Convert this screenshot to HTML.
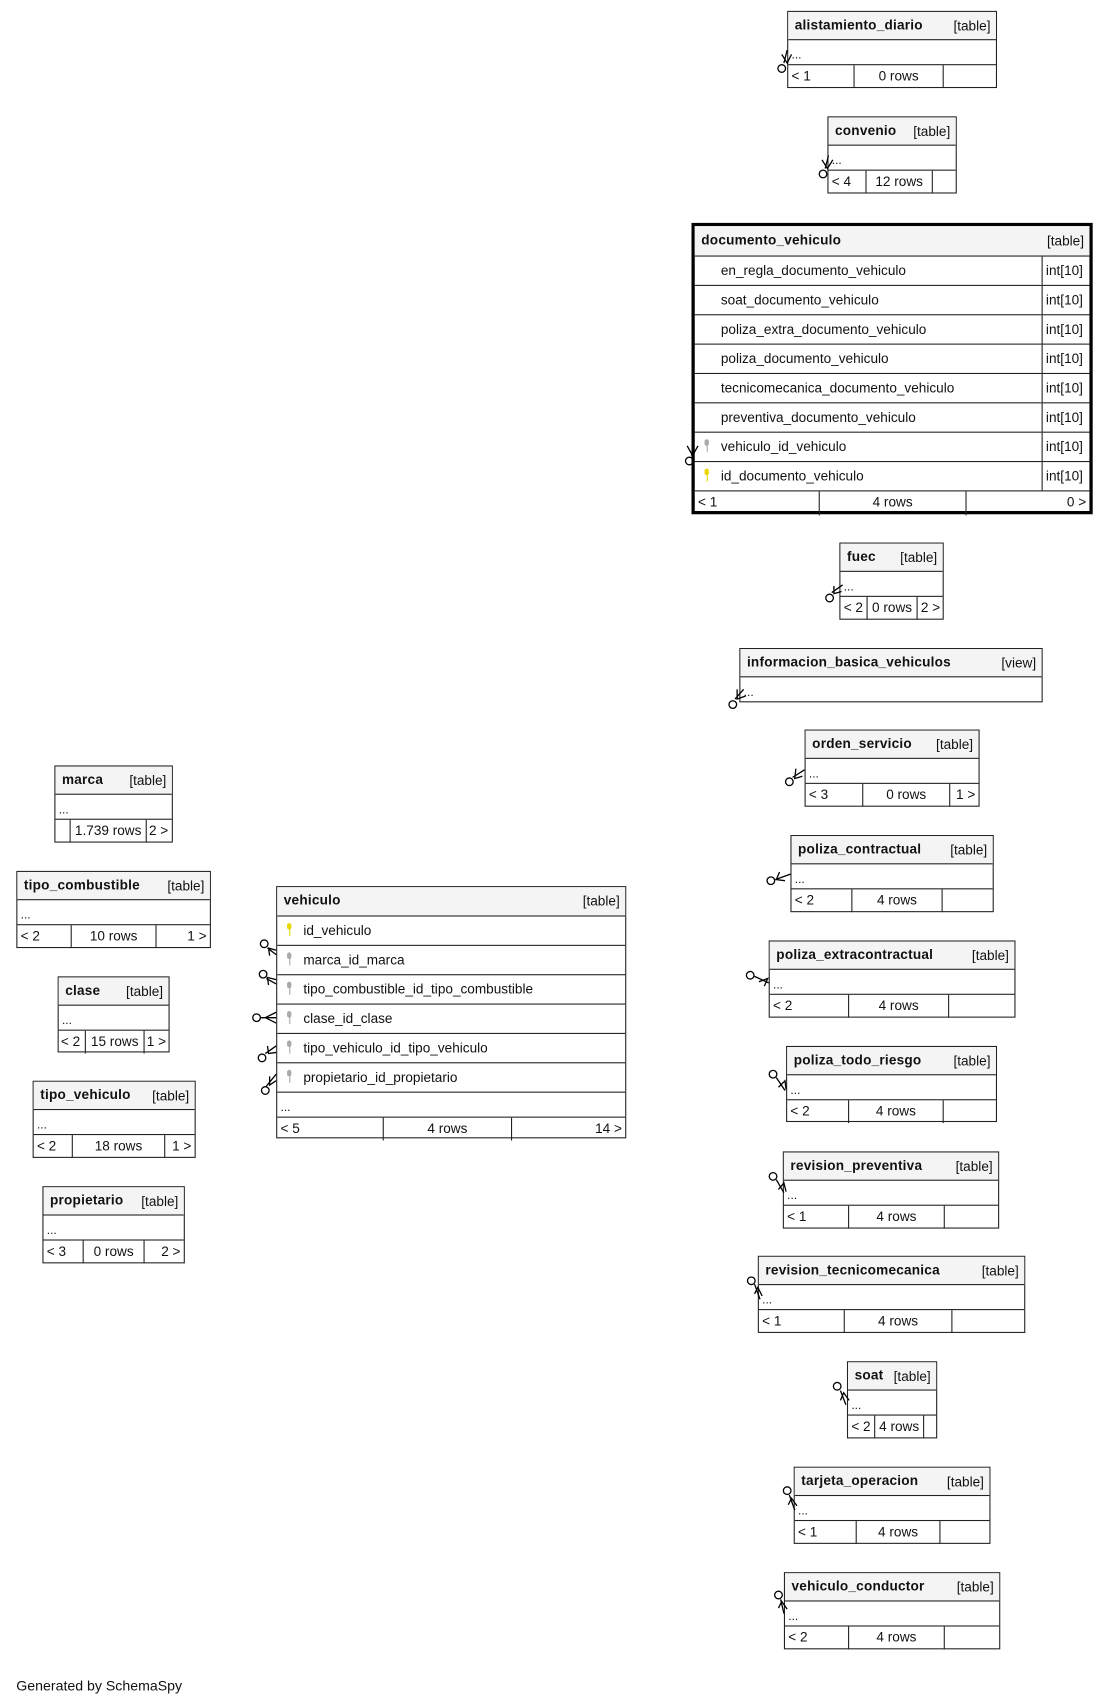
<!DOCTYPE html>
<html><head><meta charset="utf-8"><style>
html,body{margin:0;padding:0;background:#fff;}
body{width:1109px;height:1705px;overflow:hidden;position:relative;}
#w{position:absolute;left:0;top:0;width:1020px;height:1568px;transform:scale(1.08725);transform-origin:0 0;font-family:"Liberation Sans",sans-serif;font-size:12.5px;color:#111;}
.t{position:absolute;border:1px solid #222;box-sizing:border-box;background:#fff;}
.h{height:25px;background:#f4f4f4;border-bottom:1px solid #222;position:relative;}
.h b{position:absolute;left:6px;top:5px;font-size:12.5px;letter-spacing:0.2px;}
.h i{position:absolute;right:5px;top:6px;font-style:normal;}
.d{height:22px;border-bottom:1px solid #222;position:relative;}
.d span{position:absolute;left:3px;top:8px;font-size:11px;}
.f{display:flex;height:21px;}
.f div{border-right:1px solid #222;box-sizing:border-box;line-height:20px;padding:0 3px;white-space:nowrap;overflow:hidden;}
.f div:last-child{border-right:none;}
.c{text-align:center;}.r{text-align:right;}
.row{height:27px;border-bottom:1px solid #222;box-sizing:border-box;position:relative;line-height:26px;}
.row .n{position:absolute;left:24px;}
.row .ty{position:absolute;right:0;top:0;bottom:0;width:44px;border-left:1px solid #222;padding-left:3px;box-sizing:border-box;}
.k{position:absolute;left:9px;top:6px;width:4px;height:6px;border-radius:3px;}
.k:after{content:"";position:absolute;left:1.5px;top:5px;width:1.5px;height:7px;background:inherit;}
.ky{background:#e8d800;}.kg{background:#aaa;}
#foot{position:absolute;left:15px;top:1543px;font-size:13px;}
</style></head><body><div id="w">

<div class="t" style="left:724px;top:10px;width:193px;height:71px"><div class="h"><b>alistamiento_diario</b><i>[table]</i></div><div class="d"><span>...</span></div><div class="f"><div style="width:61px">&lt; 1</div><div class="c" style="width:82px">0 rows</div><div style="flex:1"></div></div></div>

<div class="t" style="left:761px;top:107px;width:119px;height:71px"><div class="h"><b>convenio</b><i>[table]</i></div><div class="d"><span>...</span></div><div class="f"><div style="width:35px">&lt; 4</div><div class="c" style="width:61px">12 rows</div><div style="flex:1"></div></div></div>

<div class="t" style="left:636px;top:205px;width:369px;height:268px;border:3px solid #000">
<div class="h" style="height:27px"><b style="top:6px">documento_vehiculo</b><i style="top:7px">[table]</i></div>
<div class="row"><span class="n">en_regla_documento_vehiculo</span><span class="ty">int[10]</span></div>
<div class="row"><span class="n">soat_documento_vehiculo</span><span class="ty">int[10]</span></div>
<div class="row"><span class="n">poliza_extra_documento_vehiculo</span><span class="ty">int[10]</span></div>
<div class="row"><span class="n">poliza_documento_vehiculo</span><span class="ty">int[10]</span></div>
<div class="row"><span class="n">tecnicomecanica_documento_vehiculo</span><span class="ty">int[10]</span></div>
<div class="row"><span class="n">preventiva_documento_vehiculo</span><span class="ty">int[10]</span></div>
<div class="row"><span class="k kg"></span><span class="n">vehiculo_id_vehiculo</span><span class="ty">int[10]</span></div>
<div class="row"><span class="k ky"></span><span class="n">id_documento_vehiculo</span><span class="ty">int[10]</span></div>
<div class="f" style="height:22px"><div style="width:115px">&lt; 1</div><div class="c" style="width:135px">4 rows</div><div class="r" style="flex:1">0 &gt;</div></div>
</div>

<div class="t" style="left:772px;top:499px;width:96px;height:71px"><div class="h"><b>fuec</b><i>[table]</i></div><div class="d"><span>...</span></div><div class="f"><div style="width:25px">&lt; 2</div><div class="c" style="width:46px;padding:0">0 rows</div><div style="flex:1">2 &gt;</div></div></div>

<div class="t" style="left:680px;top:596px;width:279px;height:50px"><div class="h"><b>informacion_basica_vehiculos</b><i>[view]</i></div><div class="d" style="border:none"><span>...</span></div></div>

<div class="t" style="left:740px;top:671px;width:161px;height:71px"><div class="h"><b>orden_servicio</b><i>[table]</i></div><div class="d"><span>...</span></div><div class="f"><div style="width:53px">&lt; 3</div><div class="c" style="width:80px">0 rows</div><div class="r" style="flex:1">1 &gt;</div></div></div>

<div class="t" style="left:727px;top:768px;width:187px;height:71px"><div class="h"><b>poliza_contractual</b><i>[table]</i></div><div class="d"><span>...</span></div><div class="f"><div style="width:56px">&lt; 2</div><div class="c" style="width:83px">4 rows</div><div style="flex:1"></div></div></div>

<div class="t" style="left:707px;top:865px;width:227px;height:71px"><div class="h"><b>poliza_extracontractual</b><i>[table]</i></div><div class="d"><span>...</span></div><div class="f"><div style="width:73px">&lt; 2</div><div class="c" style="width:92px">4 rows</div><div style="flex:1"></div></div></div>

<div class="t" style="left:723px;top:962px;width:194px;height:70px"><div class="h"><b>poliza_todo_riesgo</b><i>[table]</i></div><div class="d"><span>...</span></div><div class="f"><div style="width:57px">&lt; 2</div><div class="c" style="width:87px">4 rows</div><div style="flex:1"></div></div></div>

<div class="t" style="left:720px;top:1059px;width:199px;height:71px"><div class="h"><b>revision_preventiva</b><i>[table]</i></div><div class="d"><span>...</span></div><div class="f"><div style="width:60px">&lt; 1</div><div class="c" style="width:88px">4 rows</div><div style="flex:1"></div></div></div>

<div class="t" style="left:697px;top:1155px;width:246px;height:71px"><div class="h"><b>revision_tecnicomecanica</b><i>[table]</i></div><div class="d"><span>...</span></div><div class="f"><div style="width:79px">&lt; 1</div><div class="c" style="width:99px">4 rows</div><div style="flex:1"></div></div></div>

<div class="t" style="left:779px;top:1252px;width:83px;height:71px"><div class="h"><b>soat</b><i>[table]</i></div><div class="d"><span>...</span></div><div class="f"><div style="width:25px">&lt; 2</div><div class="c" style="width:45px;padding:0">4 rows</div><div style="flex:1"></div></div></div>

<div class="t" style="left:730px;top:1349px;width:181px;height:71px"><div class="h"><b>tarjeta_operacion</b><i>[table]</i></div><div class="d"><span>...</span></div><div class="f"><div style="width:57px">&lt; 1</div><div class="c" style="width:77px">4 rows</div><div style="flex:1"></div></div></div>

<div class="t" style="left:721px;top:1446px;width:199px;height:71px"><div class="h"><b>vehiculo_conductor</b><i>[table]</i></div><div class="d"><span>...</span></div><div class="f"><div style="width:59px">&lt; 2</div><div class="c" style="width:88px">4 rows</div><div style="flex:1"></div></div></div>

<div class="t" style="left:50px;top:704px;width:109px;height:71px"><div class="h"><b>marca</b><i>[table]</i></div><div class="d"><span>...</span></div><div class="f"><div style="width:14px"></div><div class="c" style="width:70px;padding:0">1.739 rows</div><div style="flex:1;padding:0 2px">2 &gt;</div></div></div>

<div class="t" style="left:15px;top:801px;width:179px;height:71px"><div class="h"><b>tipo_combustible</b><i>[table]</i></div><div class="d"><span>...</span></div><div class="f"><div style="width:50px">&lt; 2</div><div class="c" style="width:78px">10 rows</div><div class="r" style="flex:1">1 &gt;</div></div></div>

<div class="t" style="left:53px;top:898px;width:103px;height:70px"><div class="h"><b>clase</b><i>[table]</i></div><div class="d"><span>...</span></div><div class="f"><div style="width:25px;padding:0 2px">&lt; 2</div><div class="c" style="width:54px;padding:0">15 rows</div><div style="flex:1;padding:0 2px">1 &gt;</div></div></div>

<div class="t" style="left:30px;top:994px;width:150px;height:71px"><div class="h"><b>tipo_vehiculo</b><i>[table]</i></div><div class="d"><span>...</span></div><div class="f"><div style="width:36px">&lt; 2</div><div class="c" style="width:85px">18 rows</div><div class="r" style="flex:1">1 &gt;</div></div></div>

<div class="t" style="left:39px;top:1091px;width:131px;height:71px"><div class="h"><b>propietario</b><i>[table]</i></div><div class="d"><span>...</span></div><div class="f"><div style="width:37px">&lt; 3</div><div class="c" style="width:56px">0 rows</div><div class="r" style="flex:1">2 &gt;</div></div></div>

<div class="t" style="left:254px;top:815px;width:322px;height:232px">
<div class="h" style="height:26px"><b>vehiculo</b><i>[table]</i></div>
<div class="row"><span class="k ky"></span><span class="n">id_vehiculo</span></div>
<div class="row"><span class="k kg"></span><span class="n">marca_id_marca</span></div>
<div class="row"><span class="k kg"></span><span class="n">tipo_combustible_id_tipo_combustible</span></div>
<div class="row"><span class="k kg"></span><span class="n">clase_id_clase</span></div>
<div class="row"><span class="k kg"></span><span class="n">tipo_vehiculo_id_tipo_vehiculo</span></div>
<div class="row"><span class="k kg"></span><span class="n">propietario_id_propietario</span></div>
<div class="d" style="height:22px"><span>...</span></div>
<div class="f"><div style="width:98px">&lt; 5</div><div class="c" style="width:118px">4 rows</div><div class="r" style="flex:1">14 &gt;</div></div>
</div>

<svg style="position:absolute;left:0;top:0" width="1020" height="1568" fill="none" stroke="#000" stroke-width="1.2">
<g>
<circle cx="719" cy="63" r="3.5"/><path d="M721 58 L724 46 M719 50 L724 58 L728 50"/>
<circle cx="757" cy="160" r="3.5"/><path d="M759 155 L762 143 M756 147 L761 155 L766 147"/>
<circle cx="634" cy="424" r="3.5"/><path d="M636 419 L638 407 M632 410 L637 419 L642 410"/>
<circle cx="763" cy="550" r="3.5"/><path d="M765 545 L775 538 M767 539 L767 546 L774 544"/>
<circle cx="674" cy="648" r="3.5"/><path d="M676 643 L684 634 M678 634 L678 643 L686 640"/>
<circle cx="726" cy="719" r="3.5"/><path d="M729 715 L740 708 M732 707 L731 716 L738 714"/>
<circle cx="709" cy="810" r="3.5"/><path d="M713 809 L727 804 M717 802 L714 809 L722 810"/>
<circle cx="690" cy="897" r="3.5"/><path d="M694 898 L707 904 M698 903 L706 900 L703 907"/>
<circle cx="711" cy="988" r="3.5"/><path d="M714 991 L722 1003 M716 1000 L722 994 L723 1002"/>
<circle cx="711" cy="1082" r="3.5"/><path d="M714 1085 L721 1097 M716 1094 L721 1088 L723 1096"/>
<circle cx="691" cy="1178" r="3.5"/><path d="M694 1181 L699 1195 M694 1190 L697 1184 L701 1192"/>
<circle cx="770" cy="1275" r="3.5"/><path d="M773 1279 L778 1292 M773 1288 L776 1281 L781 1288"/>
<circle cx="724" cy="1371" r="3.5"/><path d="M726 1375 L731 1389 M725 1384 L728 1378 L733 1385"/>
<circle cx="716" cy="1467" r="3.5"/><path d="M718 1471 L721 1484 M716 1479 L719 1473 L724 1480"/>
<circle cx="243" cy="868" r="3.5"/><path d="M246 872 L254 878 M248 879 L247 872 L254 874"/>
<circle cx="242" cy="896" r="3.5"/><path d="M245 900 L254 905 M247 906 L246 899 L254 901"/>
<circle cx="236" cy="936" r="3.5"/><path d="M240 936 L254 936 M254 931 L244 936 L254 941"/>
<circle cx="241" cy="973" r="3.5"/><path d="M244 969 L254 962 M246 962 L247 969 L254 968"/>
<circle cx="244" cy="1003" r="3.5"/><path d="M245 999 L254 988 M248 990 L248 998 L254 994"/>
</g></svg>

<div id="foot">Generated by SchemaSpy</div>
</div></body></html>
